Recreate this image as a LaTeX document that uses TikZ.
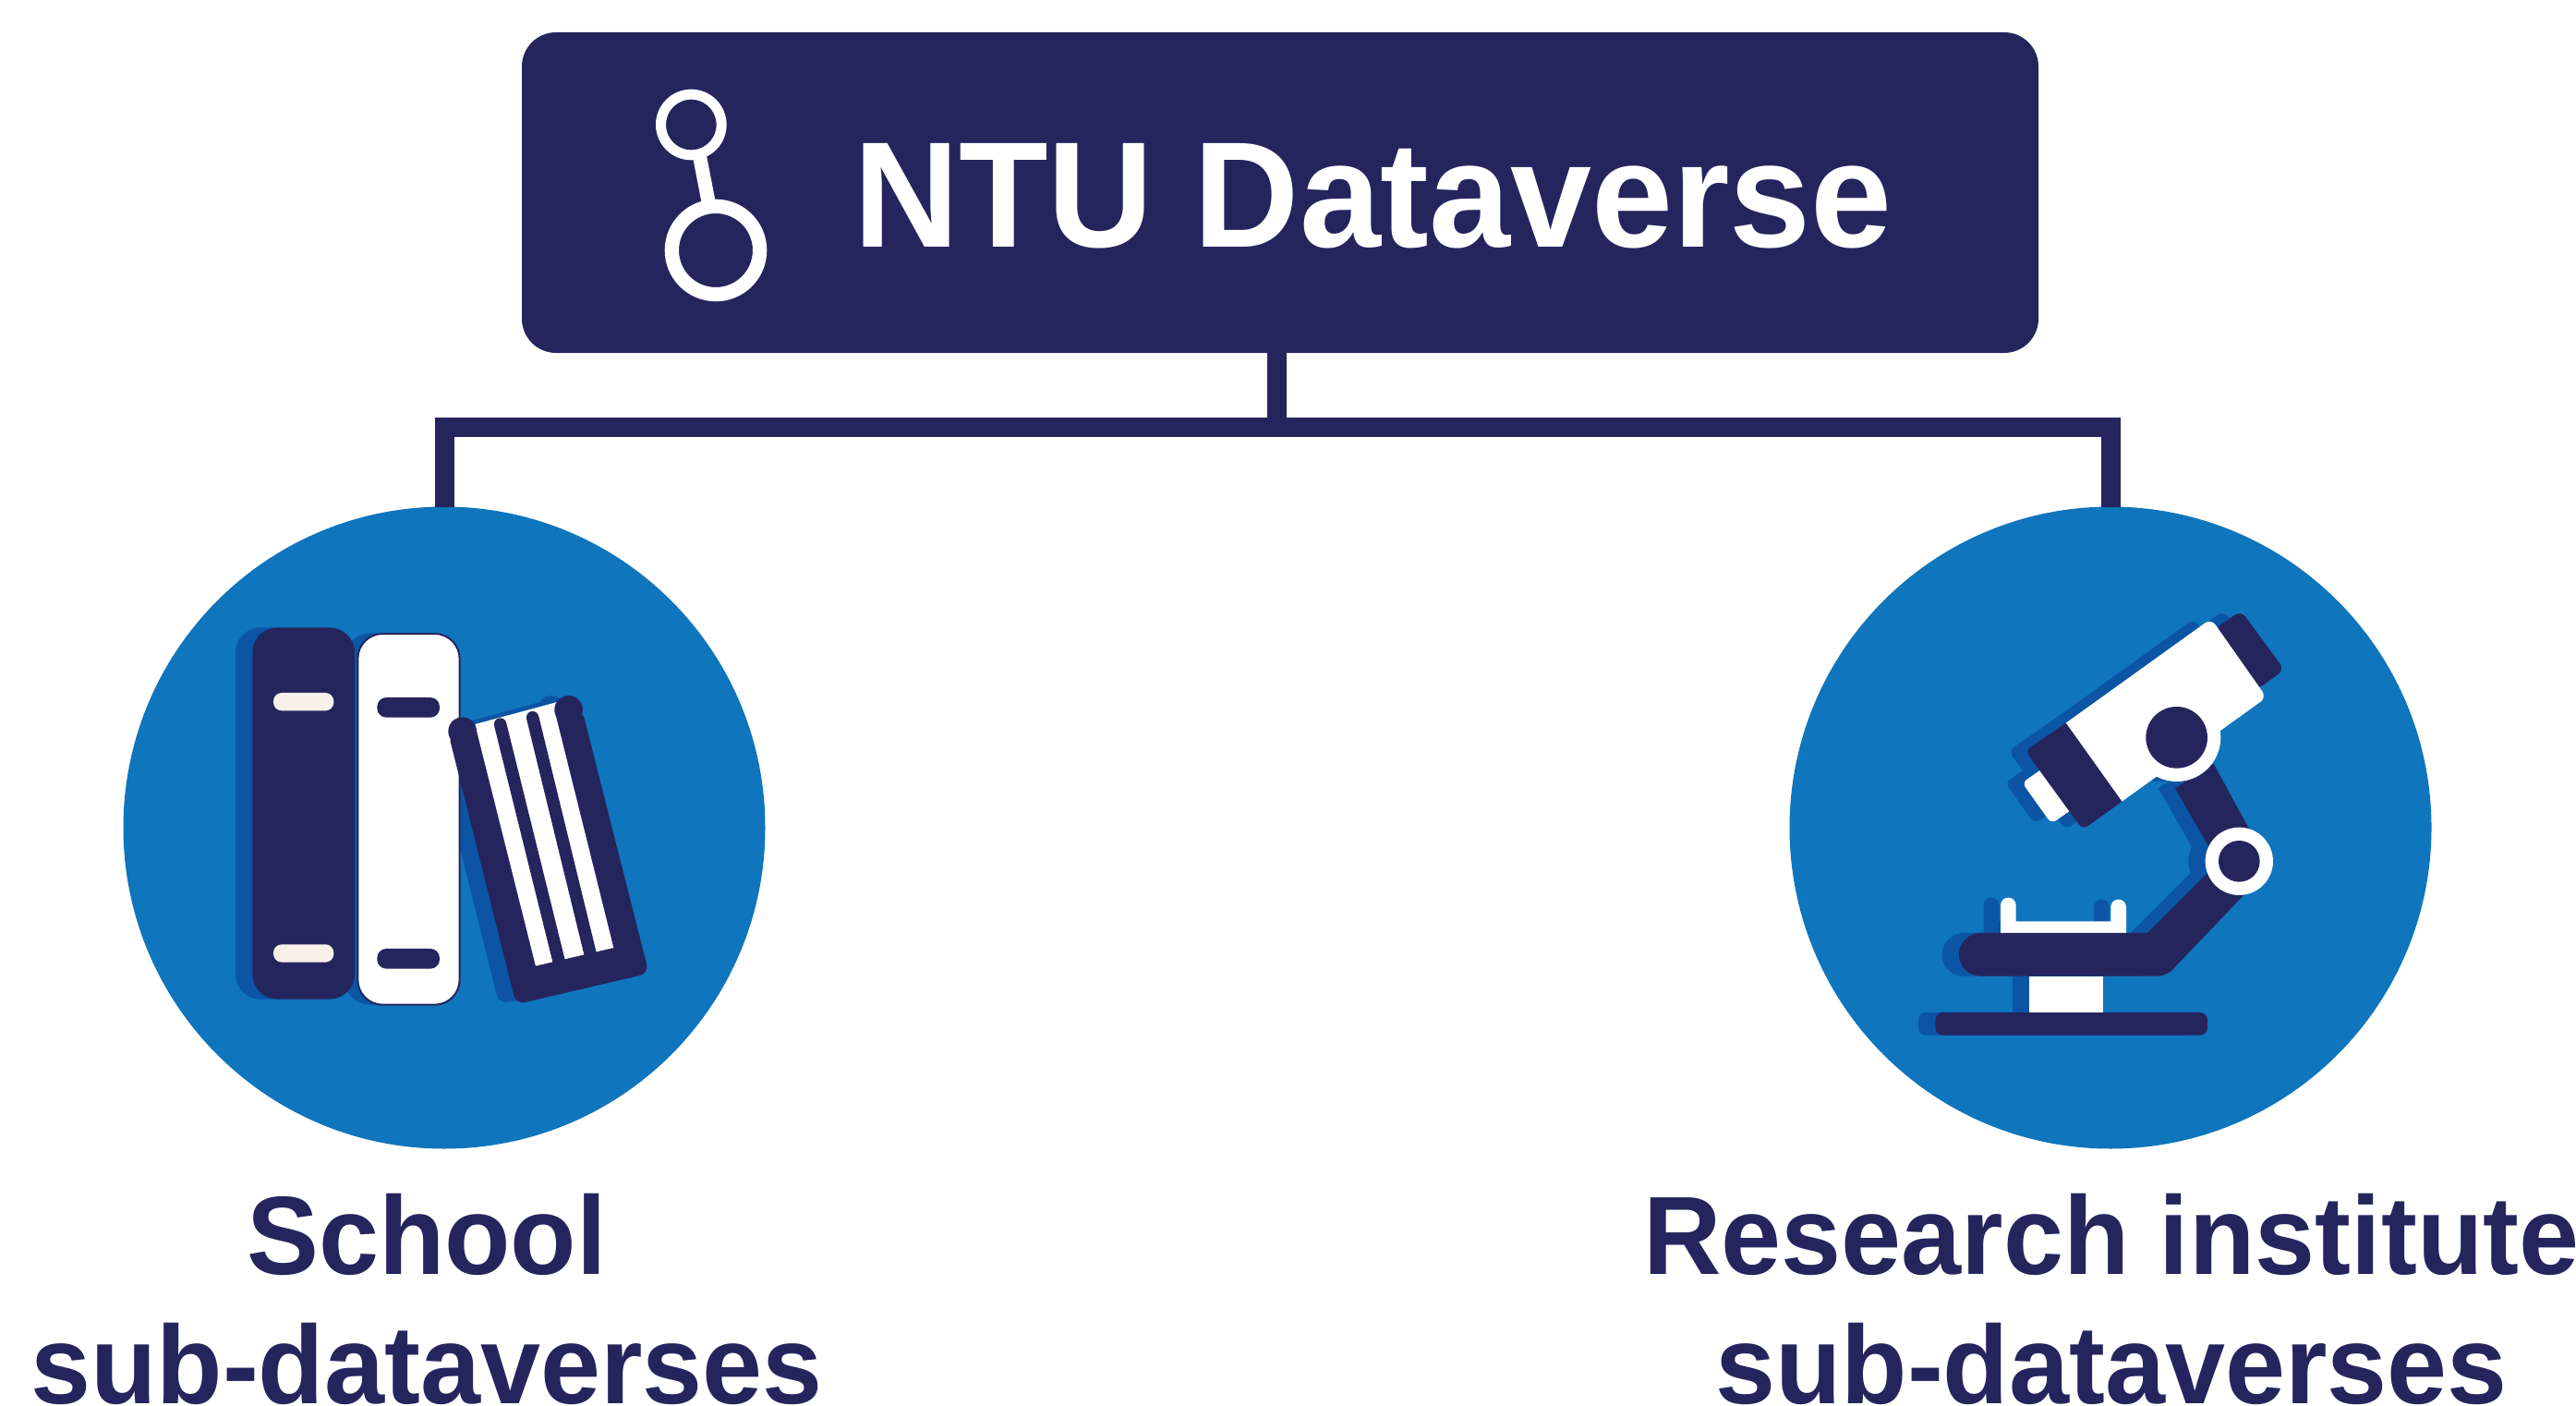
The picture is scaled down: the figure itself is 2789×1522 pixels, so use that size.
\documentclass[tikz,border=0pt]{standalone}
\usepackage{fontspec}
\setmainfont[FakeStretch=0.97]{Liberation Sans}
\definecolor{navy}{HTML}{25255E}
\definecolor{skyb}{HTML}{0F75BC}
\definecolor{shadowblue}{HTML}{0C55A5}
\definecolor{cream}{HTML}{F6F2E9}
\newcommand\bkthree[1]{%
  \fill[#1,rounded corners=10pt] (766,400) -- (986,1282) -- (1418,1181) -- (1201,325) -- cycle;
}
\newcommand\bkcaps[1]{%
  \fill[#1] (812,395) circle (46);
  \fill[#1] (1157,325) circle (46);
}
\newcommand\bkpages[1]{%
  \fill[#1] (853,372) -- (1120,300) -- (1112,330) -- (1303,1098) -- (1050,1157) -- cycle;
}
\newcommand\scpbase[1]{%
  \fill[#1,rounded corners=8pt] (106,1368) rectangle (990,1442);
  \fill[#1] (411,1250) rectangle (651,1368);
}
\newcommand\scpclip[1]{%
  \fill[#1] (318,1110) -- (318,1020) .. controls (318,1006) and (329,995) .. (343,995)
    .. controls (357,995) and (368,1006) .. (368,1020) -- (368,1072) -- (676,1072) -- (676,1026)
    .. controls (676,1012) and (687,1001) .. (701,1001)
    .. controls (715,1001) and (726,1012) .. (726,1026) -- (726,1110) -- cycle;
}
\newcommand\scparm[1]{%
  \fill[#1] (1010,560) -- (1135,790) -- (1000,840) -- (885,640) -- cycle;
  \fill[#1] (250,1110) -- (795,1110) -- (1000,905) -- (1110,985) -- (885,1220)
    .. controls (870,1240) and (850,1250) .. (825,1250) -- (250,1250) -- cycle;
  \fill[#1] (253,1180) circle (70);
}
\newcommand\scpeye[1]{%
  \fill[#1,rounded corners=8pt] (1010,125) -- (1099,63) -- (1240,255) -- (1150,320) -- cycle;
}
\newcommand\scpobj[1]{%
  \fill[#1,rounded corners=6pt] (470,565) -- (388,622) -- (483,755) -- (565,698) -- cycle;
}
\newcommand\scpbody[1]{%
  \fill[#1] (530,428) [rounded corners=8pt] -- (1002,89) -- (1182,345) [sharp corners] -- (712,683) -- cycle;
}
\newcommand\scptube[1]{%
  \fill[#1] (530,428) [rounded corners=7pt] -- (398,518) -- (585,775) [sharp corners] -- (712,683) -- cycle;
}
\tikzset{
  topbox/.style={draw=none,fill=navy,rounded corners=37pt,minimum width=1642pt,minimum height=347pt,inner sep=0pt,outer sep=0pt},
  disc/.style={circle,fill=skyb,minimum size=695pt,inner sep=0pt,outer sep=0pt},
  wire/.style={draw=navy,line width=21pt,miter limit=10},
  toptext/.style={text=white,font=\bfseries\fontsize{163}{167}\selectfont,anchor=base west,inner sep=0pt},
  captext/.style={text=navy,font=\bfseries\fontsize{120.5}{140}\selectfont,align=center,anchor=center,inner sep=0pt},
  ringline/.style={draw=white,fill=none}
}
\begin{document}
\begin{tikzpicture}[x=1pt,y=-1pt]
\useasboundingbox (0,0) rectangle (2789,1522);
\node[disc] (school) at (481,896) {};
\node[disc] (inst) at (2285,896) {};
\node[topbox] (top) at (1386,208.5) {};
\coordinate (trunk) at (1382,462.5);
\draw[wire] (trunk |- top.south) -- (trunk);
\draw[wire] (school.north) |- (trunk) -| (inst.north);
\node[toptext] (title) at (924,268) {NTU Dataverse};
\node[captext] (caplabel) at (462,1406) {School\\sub-dataverses};
\node[captext] (instlabel) at (2286,1406) {Research institute\\sub-dataverses};
% logo
\begin{scope}[shift={(640,60)},x=0.3333pt,y=-0.3333pt]
  \draw[white,line width=15pt] (353,330) -- (382,480);
  \fill[navy] (325,225) circle (82);
  \draw[ringline,line width=11pt] (325,225) circle (98.5);
  \fill[navy] (405,633) circle (120);
  \draw[ringline,line width=15.3pt] (405,633) circle (143);
\end{scope}
% books
\begin{scope}[shift={(230,660)},x=0.3333pt,y=-0.3333pt]
  \fill[shadowblue,rounded corners=27pt] (75,58) rectangle (440,1265);
  \fill[shadowblue,rounded corners=27pt] (430,77) rectangle (780,1283);
  \begin{scope}[shift={(-55,0)}]
    \bkthree{shadowblue}\bkpages{shadowblue}\bkcaps{shadowblue}
  \end{scope}
  \fill[navy,rounded corners=27pt] (130,58) rectangle (462,1265);
  \fill[cream,rounded corners=9pt] (198,270) rectangle (394,328);
  \fill[cream,rounded corners=9pt] (198,1087) rectangle (394,1145);
  \draw[navy,fill=white,line width=2pt,rounded corners=27pt] (472,78) rectangle (803,1283);
  \fill[navy,rounded corners=10pt] (535,285) rectangle (738,350);
  \fill[navy,rounded corners=10pt] (535,1101) rectangle (738,1166);
  \bkthree{navy}
  \bkpages{white}
  \bkcaps{navy}
  \draw[navy,line width=13.5pt,line cap=round] (935,372) -- (1125,1140);
  \draw[navy,line width=13.5pt,line cap=round] (1040,350) -- (1228,1120);
\end{scope}
% microscope
\begin{scope}[shift={(2060,640)},x=0.3333pt,y=-0.3333pt]
  \begin{scope}[shift={(-55,0)}]
    \scpbase{shadowblue}\scpclip{shadowblue}\scparm{shadowblue}
    \fill[shadowblue] (1093,877) circle (110);
    \scpeye{shadowblue}\scpobj{shadowblue}\scpbody{shadowblue}\scptube{shadowblue}
    \fill[shadowblue] (890,475) circle (143);
  \end{scope}
  \fill[navy,rounded corners=8pt] (106,1368) rectangle (990,1442);
  \fill[white] (411,1250) rectangle (651,1368);
  \scpclip{white}
  \scparm{navy}
  \scpeye{navy}
  \scpobj{white}
  \scpbody{white}
  \scptube{navy}
  \fill[white] (890,475) circle (143);
  \fill[navy] (890,475) circle (100);
  \fill[white] (1093,877) circle (110);
  \fill[navy] (1093,877) circle (67);
\end{scope}
\end{tikzpicture}
\end{document}
